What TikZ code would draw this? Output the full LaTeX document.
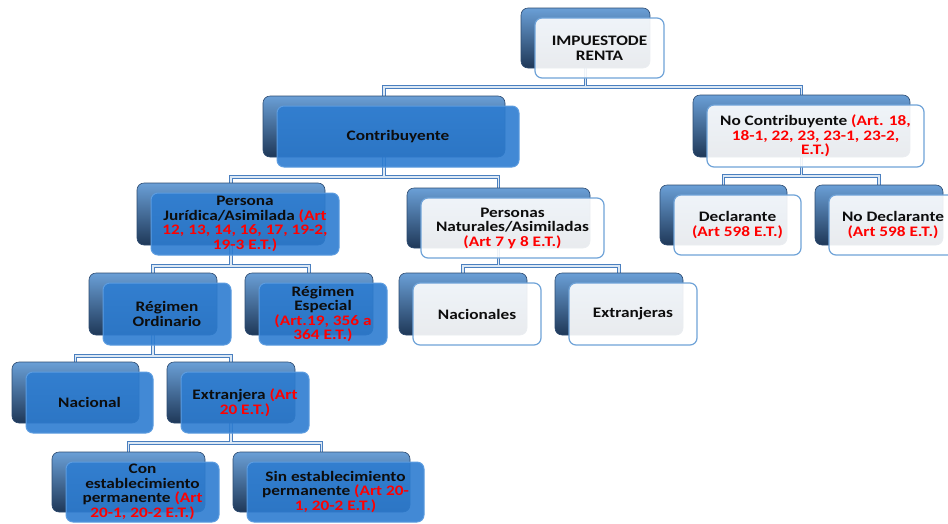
\documentclass[tikz,border=0pt]{standalone}
\usepackage{fontspec}
\newfontfamily\boxfont[FakeStretch=1.19]{Carlito}
\usetikzlibrary{calc,backgrounds}
\definecolor{backtop}{HTML}{6A9FD6}
\definecolor{backbot}{HTML}{1F3858}
\definecolor{backline}{HTML}{2C4A70}
\definecolor{frontblue}{HTML}{2E7DD1}
\definecolor{frontblueline}{HTML}{5C9CE0}
\definecolor{whiteline}{HTML}{6FA3D8}
\definecolor{pipeout}{HTML}{4A7FBF}
\definecolor{pipein}{HTML}{DCE8F4}
\definecolor{artred}{HTML}{FF0000}
\definecolor{txt}{HTML}{0D0D0D}
\newcommand\art[1]{\textcolor{artred}{#1}}
\newcommand\mkbox[7]{%
  \pgfmathsetmacro\mkbw{#4-#2}\pgfmathsetmacro\mkbh{#5-#3}%
  \pgfmathsetmacro\mkcx{(#2+#4)/2}\pgfmathsetmacro\mkcy{(#3+#5)/2}%
  \node[backbox,minimum width=\mkbw pt,minimum height=\mkbh pt] (#1B) at (\mkcx,\mkcy) {};
  \node[#6,minimum width=\mkbw pt,minimum height=\mkbh pt] (#1) at (\mkcx+14,\mkcy+10) {#7};}
\newcommand\pipepaths[1]{%
  \draw[#1] (impB.south) -- (bus0 -| impB.south);
  \draw[#1] (conB.north) |- (bus0 -| impB.south) -| (ncoB.north);
  \draw[#1] (conB.south) -- (bus1 -| conB.south);
  \draw[#1] (pjB.north) |- (bus1 -| conB.south) -| (pnB.north);
  \draw[#1] (ncoB.south) -- (bus2 -| ncoB.south);
  \draw[#1] (decB.north) |- (bus2 -| ncoB.south) -| (ndecB.north);
  \draw[#1] (pjB.south) -- (bus3 -| pjB.south);
  \draw[#1] (roB.north) |- (bus3 -| pjB.south) -| (reB.north);
  \draw[#1] (pnB.south) -- (bus3 -| pnB.south);
  \draw[#1] (nacB.north) |- (bus3 -| pnB.south) -| (extB.north);
  \draw[#1] (roB.south) -- (bus4 -| roB.south);
  \draw[#1] (nalB.north) |- (bus4 -| roB.south) -| (exaB.north);
  \draw[#1] (exaB.south) -- (bus5 -| exaB.south);
  \draw[#1] (cestB.north) |- (bus5 -| exaB.south) -| (sestB.north);}
\tikzset{
  backbox/.style={rectangle,rounded corners=7pt,top color=backtop,bottom color=backbot,draw=backline,line width=0.6pt,inner sep=0pt},
  frontbase/.style={rectangle,rounded corners=7pt,inner sep=0pt,align=center,text=txt,
    font=\boxfont\bfseries\fontsize{14.5}{14.5}\selectfont},
  blueface/.style={frontbase,fill=frontblue,fill opacity=0.9,text opacity=1,draw=frontblueline,line width=1pt},
  whiteface/.style={frontbase,fill=white,fill opacity=0.9,text opacity=1,draw=whiteline,line width=1.2pt},
  pipeouter/.style={draw=pipeout,line width=3.4pt},
  pipeinner/.style={draw=pipein,line width=1.6pt}
}
\begin{document}
\begin{tikzpicture}[x=1pt,y=-1pt]
\useasboundingbox (0,0) rectangle (948,523);
\coordinate (bus0) at (0,87);
\coordinate (bus1) at (0,177);
\coordinate (bus2) at (0,176);
\coordinate (bus3) at (0,266);
\coordinate (bus4) at (0,356);
\coordinate (bus5) at (0,443);
\mkbox{imp}{521}{8}{650}{68}{whiteface}{IMPUESTODE\\RENTA}
\mkbox{con}{263}{96}{505}{157}{blueface}{Contribuyente}
\mkbox{nco}{693}{95}{910}{157}{whiteface}{No Contribuyente \art{(Art. 18,}\\\art{18-1, 22, 23, 23-1, 23-2,}\\\art{E.T.)}}
\mkbox{pj}{137}{183}{325}{245}{blueface}{Persona\\Jurídica/Asimilada \art{(Art}\\\art{12, 13, 14, 16, 17, 19-2,}\\\art{19-3 E.T.)}}
\mkbox{pn}{407}{188}{590}{248}{whiteface}{Personas\\Naturales/Asimiladas\\\art{(Art 7 y 8 E.T.)}}
\mkbox{dec}{660}{185}{787}{245}{whiteface}{Declarante\\\art{(Art 598 E.T.)}}
\mkbox{ndec}{815}{185}{943}{245}{whiteface}{No Declarante\\\art{(Art 598 E.T.)}}
\mkbox{ro}{89}{273}{217}{335}{blueface}{Régimen\\Ordinario}
\mkbox{re}{245}{273}{373}{335}{blueface}{Régimen\\Especial\\\art{(Art.19, 356 a}\\\art{364 E.T.)}}
\mkbox{nac}{399}{273}{527}{335}{whiteface}{Nacionales}
\mkbox{ext}{555}{273}{683}{335}{whiteface}{Extranjeras}
\mkbox{nal}{12}{362}{139}{423}{blueface}{Nacional}
\mkbox{exa}{167}{362}{295}{423}{blueface}{Extranjera \art{(Art}\\\art{20 E.T.)}}
\mkbox{cest}{52}{452}{205}{512}{blueface}{Con\\establecimiento\\permanente \art{(Art}\\\art{20-1, 20-2 E.T.)}}
\mkbox{sest}{233}{452}{410}{512}{blueface}{Sin establecimiento\\permanente \art{(Art 20-}\\\art{1, 20-2 E.T.)}}
\begin{scope}[on background layer]
\fill[white] (0,0) rectangle (948,523);
\pipepaths{pipeouter}
\pipepaths{pipeinner}
\end{scope}
\end{tikzpicture}
\end{document}
